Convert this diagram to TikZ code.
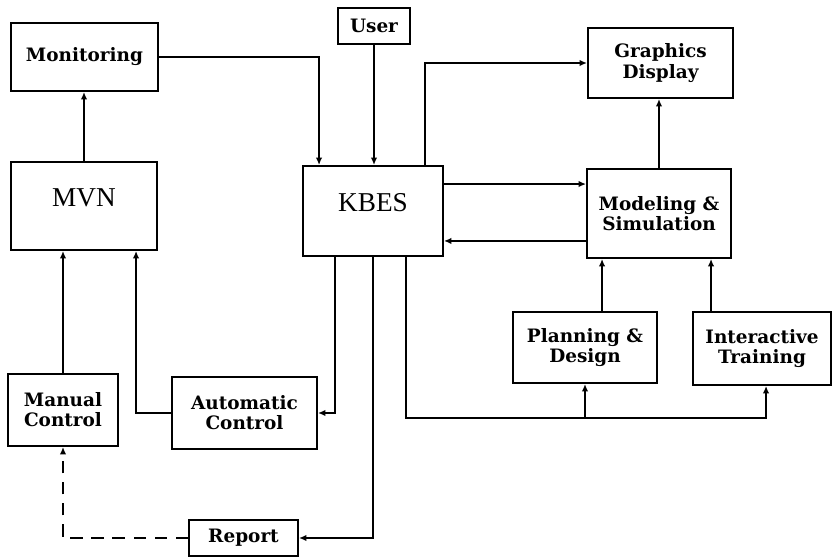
\documentclass[tikz,border=0pt]{standalone}
\usepackage{fontspec}
\setmainfont{DejaVu Serif}
\newfontfamily\bigfont{Liberation Serif}
\usetikzlibrary{arrows.meta,calc}

\begin{document}
\begin{tikzpicture}[x=0.02cm, y=-0.02cm,
    box/.style={draw, line width=1.1pt, align=center, inner sep=2pt, font=\bfseries\fontsize{10.5}{11.5}\selectfont},
    bigbox/.style={box, text depth=0.35cm, font=\bigfont\fontsize{15.5}{18}\selectfont},
    arr/.style={line width=1.1pt, -{Latex[length=1.5mm,width=1.3mm]}},
    dasharr/.style={arr, line width=0.9pt, dash pattern=on 7pt off 5pt}]
    \useasboundingbox (0,0) rectangle (833,557);

    % Boxes on the left side
    \node[box, minimum width=2.94cm, minimum height=1.36cm] (mon) at (84.5,57) {Monitoring};
    \node[bigbox, minimum width=2.92cm, minimum height=1.76cm] (mvn) at (84,206) {MVN};
    \node[box, minimum width=2.20cm, minimum height=1.44cm] (manual) at (63,410) {Manual\\Control};
    \node[box, minimum width=2.90cm, minimum height=1.44cm] (auto) at (244.5,413) {Automatic\\Control};
    \node[box, minimum width=2.18cm, minimum height=0.72cm] (report) at (243.5,538) {Report};

    % Central expert system and user
    \node[box, minimum width=1.44cm, minimum height=0.72cm] (user) at (374,26) {User};
    \node[bigbox, minimum width=2.80cm, minimum height=1.80cm] (kbes) at (373,211) {KBES};

    % Boxes on the right side
    \node[box, minimum width=2.90cm, minimum height=1.40cm] (gfx) at (660.5,63) {Graphics\\Display};
    \node[box, minimum width=2.88cm, minimum height=1.78cm] (model) at (659,213.5) {Modeling \&\\Simulation};
    \node[box, minimum width=2.88cm, minimum height=1.42cm] (plan) at (585,347.5) {Planning \&\\Design};
    \node[box, minimum width=2.76cm, minimum height=1.46cm] (train) at (762,348.5) {Interactive\\Training};

    % Left loop
    \draw[arr] (mvn.north) -- (mvn.north |- mon.south);
    \draw[arr] (manual.north) -- (manual.north |- mvn.south);
    \draw[arr] (auto.west) -| ($(mvn.south west)+(126,0)$);
    \draw[arr] (mon.east) -| ($(kbes.north west)+(17,0)$);
    \draw[arr] (user.south) -- (user.south |- kbes.north);

    % Outputs of KBES
    \draw[arr] ($(kbes.south west)+(33,0)$) |- (auto.east);
    \draw[arr] (kbes.south) |- (report.east);
    \draw[dasharr] (report.west) -| (manual.south);
    \draw[arr] ($(kbes.north west)+(123,0)$) |- (gfx.west);
    \draw[arr] ($(kbes.north east)+(0,19)$) coordinate (k1) -- (k1 -| model.west);
    \draw[arr] ($(model.south west)+(0,-18)$) coordinate (m1) -- (m1 -| kbes.east);

    % Bus to planning and training
    \coordinate (bus) at ($(train.south west)+(74,32)$);
    \draw[arr] ($(kbes.south west)+(104,0)$) |- (bus) -- (bus |- train.south);
    \draw[arr] (plan.south |- bus) -- (plan.south);

    % Right column
    \draw[arr] (model.north) -- (model.north |- gfx.south);
    \draw[arr] ($(plan.north west)+(90,0)$) coordinate (p1) -- (p1 |- model.south);
    \draw[arr] ($(train.north west)+(19,0)$) coordinate (t1) -- (t1 |- model.south);

\end{tikzpicture}
\end{document}
